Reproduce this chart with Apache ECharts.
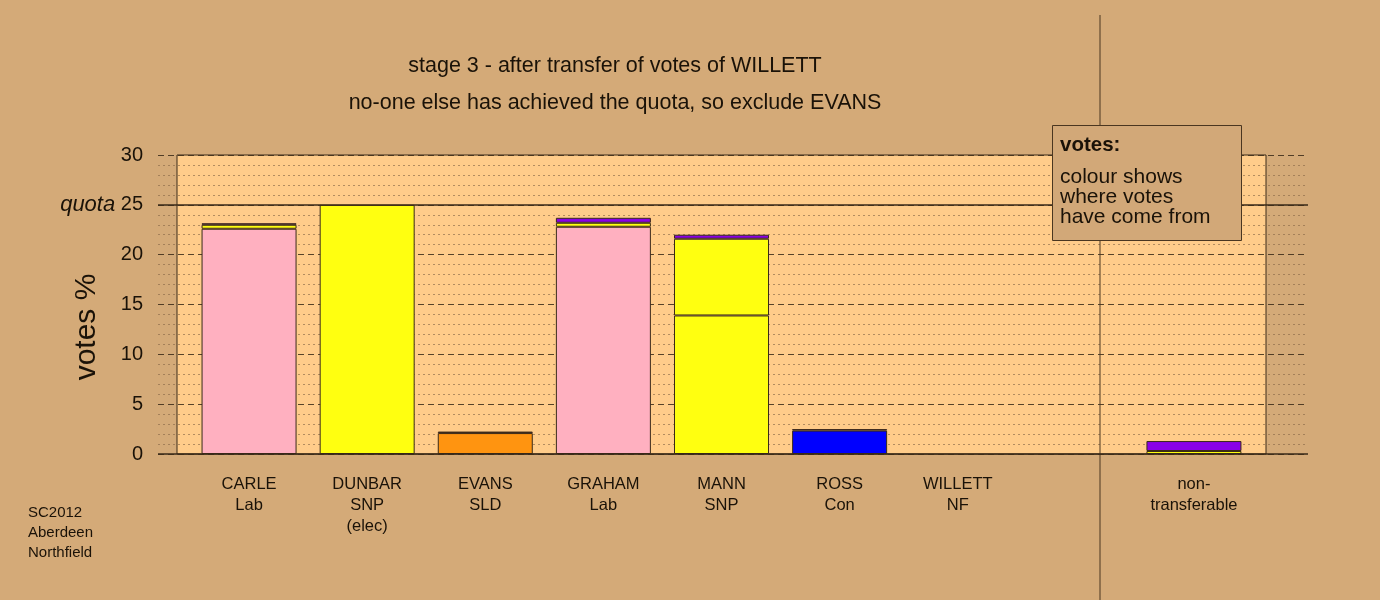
<!DOCTYPE html>
<html>
<head>
<meta charset="utf-8">
<script src="https://cdn.jsdelivr.net/npm/echarts@6/dist/echarts.min.js"></script>
<style>
html,body{margin:0;padding:0;background:#D4AA78;}
#main{width:1380px;height:600px;}
</style>
</head>
<body>
<div id="main"></div>
<script>
// ---- data ----
const categories = ['CARLE\nLab', 'DUNBAR\nSNP\n(elec)', 'EVANS\nSLD', 'GRAHAM\nLab', 'MANN\nSNP', 'ROSS\nCon', 'WILLETT\nNF', '', 'non-\ntransferable'];
const firstPrefs = [22.6, 25.0, 2.1, 22.8, 13.9, 2.35, null, null, null];
const firstColours = ['#FFB0C0', '#FFFF10', '#FF9410', '#FFB0C0', '#FFFF10', '#0000FF', '#888888', '#888888', '#888888'];
const fromDunbar = [0.4, null, null, 0.4, 7.7, null, null, null, 0.3];
const fromWillett = [0.15, null, 0.15, 0.5, 0.4, 0.15, null, null, 1.0];
const yTicks = [0, 5, 10, 15, 20, 25, 30];
const quota = 25;
const axisTitle = 'votes %';
const titleLines = ['stage 3 - after transfer of votes of WILLETT', 'no-one else has achieved the quota, so exclude EVANS'];
const legendLines = ['votes:', 'colour shows', 'where votes', 'have come from'];
const footLines = ['SC2012', 'Aberdeen', 'Northfield'];

const ink = '#1a1208';
const lineCol = '#3a2a18';
const font = '"Liberation Sans", Arial, sans-serif';

const chart = echarts.init(document.getElementById('main'));

const borderStyle = { borderColor: lineCol, borderWidth: 1 };

const option = {
  backgroundColor: '#D4AA78',
  animation: false,
  textStyle: { fontFamily: font },
  grid: [
    { left: 158, right: 72, top: 155, bottom: 146, show: false },            // 0: lines
    { left: 177, right: 114, top: 155, bottom: 146, show: true,              // 1: box
      backgroundColor: '#FFCC8A', borderColor: lineCol, borderWidth: 1 },
    { left: 190, right: 127, top: 155, bottom: 146, show: false }            // 2: bars
  ],
  xAxis: [
    { gridIndex: 0, type: 'value', min: 0, max: 1, show: false },
    { gridIndex: 1, type: 'value', min: 0, max: 1, show: false },
    { gridIndex: 2, type: 'category', data: categories,
      axisLine: { show: false }, axisTick: { show: false },
      axisLabel: { interval: 0, fontSize: 16.5, lineHeight: 21, color: ink, margin: 20, fontFamily: font } }
  ],
  yAxis: [
    { gridIndex: 0, type: 'value', min: 0, max: 30, interval: 5,
      axisLine: { show: false }, axisTick: { show: false },
      axisLabel: { fontSize: 20, color: ink, margin: 15, fontFamily: font,
        formatter: v => v === quota ? '{q|quota} ' + v : String(v),
        rich: { q: { fontStyle: 'italic', fontSize: 22, color: ink, fontFamily: font } } },
      splitLine: { show: true, lineStyle: { color: lineCol, type: [6, 4], width: 1, opacity: 0.85 } },
      minorTick: { show: false, splitNumber: 5 },
      minorSplitLine: { show: true, lineStyle: { color: '#8a6a48', type: [2, 3], width: 1, opacity: 0.65 } } },
    { gridIndex: 1, type: 'value', min: 0, max: 30, show: false, splitLine: { show: false } },
    { gridIndex: 2, type: 'value', min: 0, max: 30, show: false, splitLine: { show: false } }
  ],
  series: [
    { type: 'line', xAxisIndex: 0, yAxisIndex: 0, data: [], silent: true,
      markLine: { symbol: 'none', silent: true, label: { show: false },
        lineStyle: { color: lineCol, type: 'solid', width: 1.5 },
        data: [{ yAxis: 0 }, { yAxis: quota }] } },
    { name: 'first', type: 'bar', stack: 's', xAxisIndex: 2, yAxisIndex: 2, barWidth: 95,
      data: firstPrefs.map((v, i) => ({ value: v, itemStyle: { color: firstColours[i] } })),
      itemStyle: borderStyle, z: 3 },
    { name: 'DUNBAR surplus', type: 'bar', stack: 's', xAxisIndex: 2, yAxisIndex: 2, barWidth: 95,
      data: fromDunbar, itemStyle: Object.assign({ color: '#FFFF10' }, borderStyle), z: 3 },
    { name: 'WILLETT', type: 'bar', stack: 's', xAxisIndex: 2, yAxisIndex: 2, barWidth: 95,
      data: fromWillett, itemStyle: Object.assign({ color: '#8A00E6' }, borderStyle), z: 3 }
  ],
  graphic: [
    { type: 'line', z: 5, shape: { x1: 1100, y1: 15, x2: 1100, y2: 600 }, style: { stroke: '#4a3620', lineWidth: 1 } },
    { type: 'text', z: 5, x: 615, y: 66, style: { text: titleLines[0], font: '21.5px ' + font, fill: ink, align: 'center', verticalAlign: 'middle' } },
    { type: 'text', z: 5, x: 615, y: 103, style: { text: titleLines[1], font: '21.5px ' + font, fill: ink, align: 'center', verticalAlign: 'middle' } },
    { type: 'text', z: 5, x: 87, y: 327, rotation: Math.PI / 2, style: { text: axisTitle, font: '30px ' + font, fill: ink, align: 'center', verticalAlign: 'middle' } },
    { type: 'rect', z: 100, shape: { x: 1052.5, y: 125.5, width: 189, height: 115 }, style: { fill: '#D2A878', stroke: '#4a3620', lineWidth: 1 } },
    { type: 'text', z: 101, x: 1060, y: 145, style: { text: legendLines[0], font: 'bold 20.5px ' + font, fill: ink, verticalAlign: 'middle' } },
    { type: 'text', z: 101, x: 1060, y: 177, style: { text: legendLines[1], font: '21px ' + font, fill: ink, verticalAlign: 'middle' } },
    { type: 'text', z: 101, x: 1060, y: 197, style: { text: legendLines[2], font: '21px ' + font, fill: ink, verticalAlign: 'middle' } },
    { type: 'text', z: 101, x: 1060, y: 217, style: { text: legendLines[3], font: '21px ' + font, fill: ink, verticalAlign: 'middle' } },
    { type: 'text', z: 5, x: 28, y: 513, style: { text: footLines[0], font: '15px ' + font, fill: ink, verticalAlign: 'middle' } },
    { type: 'text', z: 5, x: 28, y: 533, style: { text: footLines[1], font: '15px ' + font, fill: ink, verticalAlign: 'middle' } },
    { type: 'text', z: 5, x: 28, y: 553, style: { text: footLines[2], font: '15px ' + font, fill: ink, verticalAlign: 'middle' } }
  ]
};
chart.setOption(option);
</script>
</body>
</html>
